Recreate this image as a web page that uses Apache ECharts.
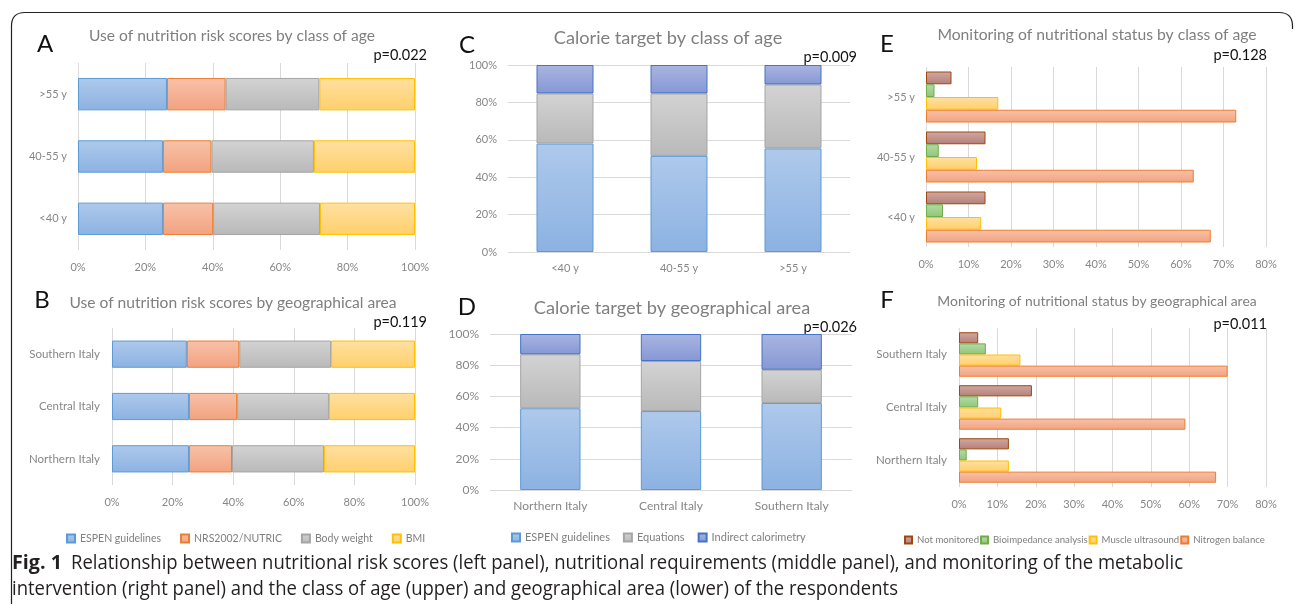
<!DOCTYPE html>
<html>
<head>
<meta charset="utf-8">
<script src="https://cdn.jsdelivr.net/npm/echarts/dist/echarts.min.js"></script>
<style>
  html, body { margin: 0; padding: 0; background: #ffffff; }
  #chart { width: 1295px; height: 605px; }
</style>
</head>
<body>
<div id="chart"></div>
<script>
// ---- categories ----
const ageClasses = ['<40 y', '40-55 y', '>55 y'];
const areas = ['Northern Italy', 'Central Italy', 'Southern Italy'];

// ---- series names ----
const riskLabels = ['ESPEN guidelines', 'NRS2002/NUTRIC', 'Body weight', 'BMI'];
const calorieLabels = ['ESPEN guidelines', 'Equations', 'Indirect calorimetry'];
const monitorLabels = ['Not monitored', 'Bioimpedance analysis', 'Muscle ultrasound', 'Nitrogen balance'];

// ---- value axis ticks (percent) ----
const shareTicks = [0, 20, 40, 60, 80, 100];
const monitorTicks = [0, 10, 20, 30, 40, 50, 60, 70, 80];

// ---- A: nutrition risk scores by class of age (% of respondents) ----
const riskAgeEspen  = [25.2, 25.2, 26.4];
const riskAgeNrs    = [14.9, 14.4, 17.4];
const riskAgeWeight = [31.7, 30.4, 27.8];
const riskAgeBmi    = [28.2, 30.0, 28.4];

// ---- B: nutrition risk scores by geographical area ----
const riskAreaEspen  = [25.4, 25.4, 24.7];
const riskAreaNrs    = [14.2, 15.9, 17.3];
const riskAreaWeight = [30.4, 30.3, 30.3];
const riskAreaBmi    = [30.0, 28.4, 27.7];

// ---- C: calorie target by class of age ----
const calAgeEspen     = [58.0, 51.4, 55.4];
const calAgeEquations = [26.8, 33.4, 34.2];
const calAgeIndirect  = [15.2, 15.2, 10.4];

// ---- D: calorie target by geographical area ----
const calAreaEspen     = [52.4, 50.6, 55.8];
const calAreaEquations = [34.6, 32.1, 21.3];
const calAreaIndirect  = [13.0, 17.3, 22.9];

// ---- E: monitoring of nutritional status by class of age ----
const monAgeNone     = [14, 14, 6];
const monAgeBia      = [4, 3, 2];
const monAgeMuscle   = [13, 12, 17];
const monAgeNitrogen = [67, 63, 73];

// ---- F: monitoring of nutritional status by geographical area ----
const monAreaNone     = [13, 19, 5];
const monAreaBia      = [2, 5, 7];
const monAreaMuscle   = [13, 11, 16];
const monAreaNitrogen = [67, 59, 70];

// ---- p-values ----
const pValues = ['p=0.022', 'p=0.119', 'p=0.009', 'p=0.026', 'p=0.128', 'p=0.011'];

// fill gradient (top, bottom) and outline per series
const looks = {
  'ESPEN guidelines':      ['#aec9eb', '#8cb2e2', '#5b9bd5'],
  'NRS2002/NUTRIC':        ['#f7c2a9', '#f2a27f', '#ed7d31'],
  'Nitrogen balance':      ['#f7c2a9', '#f2a27f', '#ed7d31'],
  'Body weight':           ['#d3d3d3', '#b9b9b9', '#a5a5a5'],
  'Equations':             ['#d3d3d3', '#b9b9b9', '#a5a5a5'],
  'BMI':                   ['#ffe0a2', '#ffd06b', '#ffc000'],
  'Muscle ultrasound':     ['#ffe0a2', '#ffd06b', '#ffc000'],
  'Indirect calorimetry':  ['#a9b5e1', '#8697d4', '#4472c4'],
  'Not monitored':         ['#d0a9a4', '#b57f77', '#9e480e'],
  'Bioimpedance analysis': ['#b6daa6', '#8fc57b', '#70ad47']
};

const FONT = 'Lato, "Open Sans", sans-serif';
const GREY_TEXT = '#7f7f7f';
const AXIS_TEXT = '#878787';
const GRID_LINE = '#d9d9d9';

const panels = [
  { grid: { left: 78, top: 63, width: 337, height: 187 }, horizontal: true, cats: ageClasses,
    ticks: shareTicks, names: riskLabels, values: [riskAgeEspen, riskAgeNrs, riskAgeWeight, riskAgeBmi],
    stacked: true, barWidth: '52%', catFont: 11, catMargin: 11, valFont: 11 },
  { grid: { left: 112, top: 328, width: 303, height: 157 }, horizontal: true, cats: areas,
    ticks: shareTicks, names: riskLabels, values: [riskAreaEspen, riskAreaNrs, riskAreaWeight, riskAreaBmi],
    stacked: true, barWidth: '52%', catFont: 11.5, catMargin: 12, valFont: 11 },
  { grid: { left: 508, top: 65, width: 342, height: 187 }, horizontal: false, cats: ageClasses,
    ticks: shareTicks, names: calorieLabels, values: [calAgeEspen, calAgeEquations, calAgeIndirect],
    stacked: true, barWidth: '50%', catFont: 11, catMargin: 11, valFont: 11 },
  { grid: { left: 490, top: 334, width: 362, height: 156 }, horizontal: false, cats: areas,
    ticks: shareTicks, names: calorieLabels, values: [calAreaEspen, calAreaEquations, calAreaIndirect],
    stacked: true, barWidth: '50%', catFont: 12, catMargin: 10, valFont: 12 },
  { grid: { left: 926, top: 67, width: 340, height: 180 }, horizontal: true, cats: ageClasses,
    ticks: monitorTicks, names: monitorLabels, values: [monAgeNone, monAgeBia, monAgeMuscle, monAgeNitrogen],
    stacked: false, gap: '15%', catFont: 11, catMargin: 11, valFont: 11 },
  { grid: { left: 959, top: 328, width: 307, height: 159 }, horizontal: true, cats: areas,
    ticks: monitorTicks, names: monitorLabels, values: [monAreaNone, monAreaBia, monAreaMuscle, monAreaNitrogen],
    stacked: false, gap: '16%', catFont: 11.5, catMargin: 12, valFont: 11 }
];

function fillOf(name) {
  const c = looks[name];
  return new echarts.graphic.LinearGradient(0, 0, 0, 1, [
    { offset: 0, color: c[0] }, { offset: 1, color: c[1] }
  ]);
}

const grids = [], xAxes = [], yAxes = [], series = [];
panels.forEach((p, i) => {
  grids.push(Object.assign({ containLabel: false }, p.grid));
  const valueAxis = {
    type: 'value', gridIndex: i,
    min: p.ticks[0], max: p.ticks[p.ticks.length - 1], interval: p.ticks[1] - p.ticks[0],
    axisLine: { show: false }, axisTick: { show: false },
    splitLine: { show: true, lineStyle: { color: GRID_LINE, width: 1 } },
    axisLabel: { formatter: '{value}%', color: AXIS_TEXT, fontSize: p.valFont, fontFamily: FONT,
                 margin: p.horizontal ? 12 : 11 }
  };
  const catAxis = {
    type: 'category', gridIndex: i, data: p.cats,
    axisLine: { show: false }, axisTick: { show: false }, splitLine: { show: false },
    axisLabel: { color: AXIS_TEXT, fontSize: p.catFont, fontFamily: FONT, margin: p.catMargin }
  };
  if (p.horizontal) { xAxes.push(valueAxis); yAxes.push(catAxis); }
  else { xAxes.push(catAxis); yAxes.push(valueAxis); }

  p.names.forEach((name, k) => {
    const s = {
      type: 'bar', name: name, xAxisIndex: i, yAxisIndex: i, data: p.values[k],
      silent: true,
      itemStyle: { color: fillOf(name), borderColor: looks[name][2], borderWidth: 1 }
    };
    if (p.stacked) { s.stack = 'panel' + i; s.barWidth = p.barWidth; }
    else { s.barGap = '0%'; s.barCategoryGap = p.gap; }
    series.push(s);
  });
});

// panel letters, titles and p-values
const letterPos = [[45, 44], [42, 300], [467, 45], [467, 307], [887, 44], [887, 300]];
const letters = ['A', 'B', 'C', 'D', 'E', 'F'];
const titles = [
  'Use of nutrition risk scores by class of age',
  'Use of nutrition risk scores by geographical area',
  'Calorie target by class of age',
  'Calorie target by geographical area',
  'Monitoring of nutritional status by class of age',
  'Monitoring of nutritional status by geographical area'
];
const titlePos = [[232, 36, 15.6], [233, 303, 15.6], [668, 38, 18.2], [672, 308, 18.2], [1097, 35, 15.7], [1097, 302, 13.9]];
const pPos = [[427, 55], [427, 322], [857, 57], [857, 327], [1267, 55], [1267, 324]];

const graphics = [];
letters.forEach((L, i) => {
  graphics.push({ type: 'text', x: letterPos[i][0], y: letterPos[i][1], silent: true,
    style: { text: L, fill: '#111', font: '24px ' + FONT, align: 'center', verticalAlign: 'middle',
             textAlign: 'center', textVerticalAlign: 'middle' } });
  graphics.push({ type: 'text', x: titlePos[i][0], y: titlePos[i][1], silent: true,
    style: { text: titles[i], fill: GREY_TEXT, font: titlePos[i][2] + 'px ' + FONT, align: 'center',
             verticalAlign: 'middle', textAlign: 'center', textVerticalAlign: 'middle' } });
  graphics.push({ type: 'text', x: pPos[i][0], y: pPos[i][1], silent: true,
    style: { text: pValues[i], fill: '#111', font: '14.5px ' + FONT, align: 'right', verticalAlign: 'middle',
             textAlign: 'right', textVerticalAlign: 'middle' } });
});

// figure caption, condensed to its line widths
const capFont = '20px "Open Sans", sans-serif';
const capBold = 'bold 20px "Open Sans", sans-serif';
function widthOf(text, font) {
  const ctx = document.createElement('canvas').getContext('2d');
  ctx.font = font;
  return ctx.measureText(text).width;
}
const capLines = [
  { text: 'Fig. 1', font: capBold, x: 12, y: 563, w: 50 },
  { text: 'Relationship between nutritional risk scores (left panel), nutritional requirements (middle panel), and monitoring of the metabolic',
    font: capFont, x: 71, y: 563, w: 1112 },
  { text: 'intervention (right panel) and the class of age (upper) and geographical area (lower) of the respondents',
    font: capFont, x: 12, y: 589, w: 886 }
];
capLines.forEach(c => {
  graphics.push({ type: 'text', x: c.x, y: c.y, scaleX: c.w / widthOf(c.text, c.font), silent: true,
    style: { text: c.text, fill: '#231f20', font: c.font, align: 'left', verticalAlign: 'middle',
             textAlign: 'left', textVerticalAlign: 'middle' } });
});

// figure frame: left rule and rounded top edge
const frameStyle = { stroke: '#222', lineWidth: 1.2, fill: null };
graphics.push(
  { type: 'polyline', silent: true, shape: { points: [[11.5, 604], [11.5, 26]] }, style: frameStyle },
  { type: 'bezierCurve', silent: true,
    shape: { x1: 11.5, y1: 26, cpx1: 11.5, cpy1: 12.5, x2: 25, y2: 12.5 }, style: frameStyle },
  { type: 'polyline', silent: true, shape: { points: [[25, 12.5], [1279, 12.5]] }, style: frameStyle },
  { type: 'bezierCurve', silent: true,
    shape: { x1: 1279, y1: 12.5, cpx1: 1292.5, cpy1: 12.5, x2: 1292.5, y2: 26 }, style: frameStyle },
  { type: 'polyline', silent: true, shape: { points: [[1292.5, 26], [1292.5, 29]] }, style: frameStyle }
);

const legendBase = {
  icon: 'rect', itemWidth: 8, itemHeight: 8, selectedMode: false, orient: 'horizontal',
  textStyle: { color: GREY_TEXT, fontFamily: FONT, fontSize: 10.5 }
};

const option = {
  animation: false,
  backgroundColor: '#ffffff',
  grid: grids,
  xAxis: xAxes,
  yAxis: yAxes,
  series: series,
  legend: [
    Object.assign({}, legendBase, { data: riskLabels, left: 61, top: 528, itemGap: 19 }),
    Object.assign({}, legendBase, { data: calorieLabels, left: 506, top: 527, itemGap: 13,
      textStyle: { color: GREY_TEXT, fontFamily: FONT, fontSize: 11 } }),
    Object.assign({}, legendBase, { data: monitorLabels, left: 899, top: 530, itemGap: 1,
      itemWidth: 7, itemHeight: 7,
      textStyle: { color: GREY_TEXT, fontFamily: FONT, fontSize: 9.6 } })
  ],
  graphic: graphics
};

const chart = echarts.init(document.getElementById('chart'), null, { renderer: 'canvas' });
chart.setOption(option);
</script>
</body>
</html>
